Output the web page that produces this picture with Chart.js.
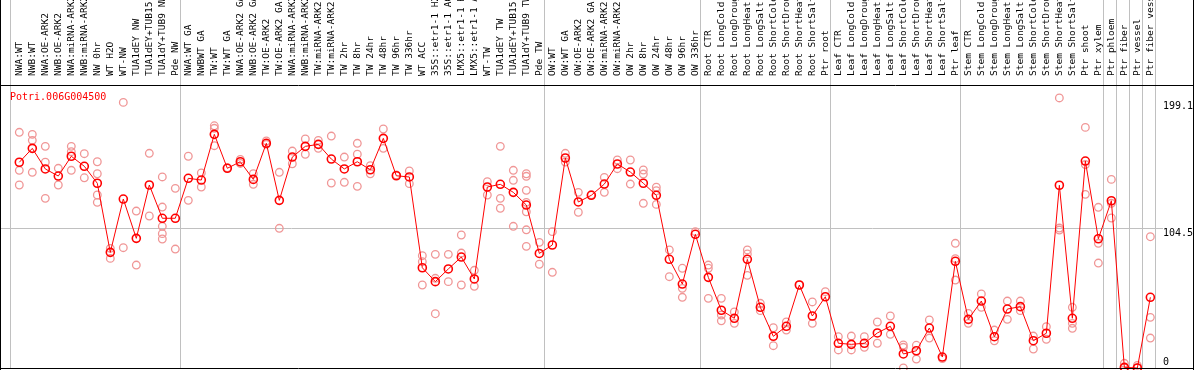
<!DOCTYPE html>
<html>
<head>
<meta charset="utf-8">
<script src="https://cdn.jsdelivr.net/npm/chart.js@4.4.0/dist/chart.umd.min.js"></script>
<style>
  html, body { margin: 0; padding: 0; background: #fff; }
  canvas { display: block; }
</style>
</head>
<body>
<canvas id="chart" width="1194" height="370"></canvas>
<script>
const geneName = 'Potri.006G004500';

const sampleLabels = [
  'NWA:WT', 'NWB:WT', 'NWA:OE-ARK2', 'NWB:OE-ARK2', 'NWA:miRNA-ARK2', 'NWB:miRNA-ARK2',
  'NW 0hr', 'WT H2O', 'WT-NW', 'TUA1dEY NW', 'TUA1dEY+TUB15', 'TUA1dY+TUB9 NW', 'Pde NW',
  'NWA:WT GA', 'NWBWT GA', 'TW:WT', 'TW:WT GA', 'NWA:OE-ARK2 GA', 'NWB:OE-ARK2 GA',
  'TW:OE-ARK2', 'TW:OE-ARK2 GA', 'NWA:miRNA-ARK2', 'NWB:miRNA-ARK2', 'TW:miRNA-ARK2',
  'TW:miRNA-ARK2', 'TW 2hr', 'TW 8hr', 'TW 24hr', 'TW 48hr', 'TW 96hr', 'TW 336hr', 'WT ACC',
  '35S::etr1-1 H2', '35S::etr1-1 AC', 'LMX5::etr1-1 H', 'LMX5::etr1-1 A', 'WT-TW',
  'TUA1dEY TW', 'TUA1dEY+TUB15', 'TUA1dY+TUB9 TW', 'Pde TW',
  'OW:WT', 'OW:WT GA', 'OW:OE-ARK2', 'OW:OE-ARK2 GA', 'OW:miRNA-ARK2', 'OW:miRNA-ARK2',
  'OW 2hr', 'OW 8hr', 'OW 24hr', 'OW 48hr', 'OW 96hr', 'OW 336hr',
  'Root CTR', 'Root LongCold', 'Root LongDroug', 'Root LongHeat', 'Root LongSalt',
  'Root ShortCold', 'Root ShortDrou', 'Root ShortHeat', 'Root ShortSalt', 'Ptr root',
  'Leaf CTR', 'Leaf LongCold', 'Leaf LongDroug', 'Leaf LongHeat', 'Leaf LongSalt',
  'Leaf ShortCold', 'Leaf ShortDrou', 'Leaf ShortHeat', 'Leaf ShortSalt', 'Ptr leaf',
  'Stem CTR', 'Stem LongCold', 'Stem LongDroug', 'Stem LongHeat', 'Stem LongSalt',
  'Stem ShortCold', 'Stem ShortDrou', 'Stem ShortHeat', 'Stem ShortSalt', 'Ptr shoot',
  'Ptr xylem', 'Ptr phloem', 'Ptr fiber', 'Ptr vessel', 'Ptr fiber vess'
];

// number of samples in each block between the grey separators
const groupSizes = [13, 28, 12, 10, 10, 11, 1, 1, 1, 1];

const meanValues = [
  153.9, 164.3, 148.9, 143.6, 158.4, 150.9, 138.2, 86.5, 126.4, 97.0, 136.9, 112.0, 112.0,
  141.9, 140.6, 174.8, 149.4, 154.3, 141.1, 168.1, 125.4, 157.8, 165.8, 167.3, 156.3, 148.9,
  154.3, 148.3, 171.8, 143.8, 142.9, 75.0, 64.6, 74.1, 83.0, 66.6, 135.4, 137.4, 131.4, 121.9, 85.7,
  92.0, 157.1, 124.2, 129.2, 137.6, 152.6, 146.6, 138.2, 129.2, 81.3, 62.8, 100.0,
  67.8, 43.2, 37.2, 81.3, 45.4, 23.7, 31.2, 62.1, 38.9, 53.3,
  18.5, 17.7, 18.5, 26.2, 31.2, 10.5, 12.9, 29.9, 8.2, 79.8,
  36.4, 50.1, 23.4, 44.1, 45.9, 20.4, 26.0, 136.7, 37.2, 154.8, 96.7,
  125.1, 0.5, 0, 52.9
];

const replicateValues = [
  [176.3, 147.9, 136.9], [174.8, 170.3, 146.4], [165.8, 153.9, 126.9], [149.4, 136.9],
  [165.8, 161.8, 147.9], [160.3, 142.3], [154.3, 145.3, 129.4, 123.9], [89.5, 82.0],
  [198.7, 90.0], [117.4, 77.0], [160.6, 113.7], [142.9, 120.4, 106.0, 100.5, 96.5], [134.4, 89.0],
  [158.4, 125.4], [145.9, 135.4], [181.2, 179.3, 166.3], [149.8], [156.0, 153.0],
  [145.3, 137.4], [169.8, 167.3], [146.4, 104.5], [162.3, 152.8], [171.3, 159.9],
  [170.3, 164.3], [173.5, 138.4], [157.8, 138.9], [168.1, 159.9, 135.9], [151.3, 145.3],
  [178.8, 164.3], [144.4], [147.4, 137.9], [84.0, 79.5, 62.1], [85.0, 67.1, 40.6],
  [85.0, 64.6], [99.5, 86.0, 62.1], [73.1, 61.1], [139.4, 129.4], [165.8, 126.9, 119.5],
  [147.9, 140.4, 106.0], [145.3, 143.4, 132.9, 123.9, 116.9, 103.4, 91.0], [94.0, 77.6],
  [102.0, 71.6], [160.6, 154.1], [131.4, 116.5], [129.6], [142.6, 131.4], [155.6, 149.1],
  [155.6, 137.6], [148.1, 145.1, 123.2], [135.2, 132.6, 122.4], [88.3, 68.3],
  [74.6, 59.6, 52.9], [102.0],
  [77.0, 74.6, 52.1], [52.1, 39.6, 35.3], [41.9, 33.4], [88.3, 85.3, 69.3], [48.4, 42.9],
  [30.1, 16.7], [34.4, 28.4], [62.1], [49.4, 33.4], [57.1],
  [23.4, 13.5], [23.9, 13.5], [23.4, 15.5], [34.4, 18.5], [38.9, 25.2], [17.2, 15.5, 0],
  [17.0, 6.7], [35.9, 22.4], [7.0], [93.3, 81.8, 65.8],
  [40.9, 33.4], [55.4, 45.4], [28.4, 20.4], [50.1, 36.4], [50.1, 42.9], [23.9, 14.2],
  [30.9, 21.5], [202.0, 104.7, 103.2], [45.4, 33.4, 29.7], [180.0, 152.2, 129.9],
  [120.2, 93.3, 78.5], [141.1, 123.2, 112.2], [3.5, 0], [2.0, 0], [98.2, 37.9, 22.4]
];

const yTickValues = [0, 104.5, 199.1];

// separator positions in sample units
const separators = [-0.7];
let count = 0;
groupSizes.forEach(n => { count += n; separators.push(count - 1 + 0.38); });

const meanPoints = meanValues.map((v, i) => ({ x: i, y: v }));
const replicatePoints = [];
replicateValues.forEach((vals, i) => vals.forEach(v => replicatePoints.push({ x: i, y: v })));

const monoFont = 'DejaVu Sans Mono';

const decorations = {
  id: 'decorations',
  beforeDatasetsDraw(chart) {
    const { ctx, chartArea, scales } = chart;
    const x = scales.x, y = scales.y;
    ctx.save();
    ctx.strokeStyle = '#c0c0c0';
    ctx.lineWidth = 1;
    ctx.beginPath();
    const gy = Math.round(y.getPixelForValue(yTickValues[1])) + 0.5;
    ctx.moveTo(chartArea.left, gy);
    ctx.lineTo(chartArea.right - 30, gy);
    separators.forEach(s => {
      const px = Math.round(x.getPixelForValue(s)) + 0.5;
      ctx.moveTo(px, 0);
      ctx.lineTo(px, chartArea.bottom);
    });
    ctx.stroke();

    // y tick labels drawn inside the frame on the right
    ctx.fillStyle = '#000';
    ctx.font = '10px ' + monoFont;
    ctx.textAlign = 'left';
    ctx.textBaseline = 'middle';
    yTickValues.forEach(v => {
      let py = y.getPixelForValue(v) + 5;
      if (py > chartArea.bottom - 6) py = chartArea.bottom - 6;
      ctx.fillText(String(v), chartArea.right - 30, py);
    });

    ctx.fillStyle = '#ff0000';
    ctx.fillText(geneName, 10, chartArea.top + 12);
    ctx.restore();
  },
  afterDraw(chart) {
    const { ctx, chartArea } = chart;
    ctx.save();
    ctx.strokeStyle = '#000';
    ctx.lineWidth = 1;
    ctx.beginPath();
    ctx.moveTo(0.5, 0);
    ctx.lineTo(0.5, chart.height);
    ctx.moveTo(chart.width - 0.5, 0);
    ctx.lineTo(chart.width - 0.5, chart.height);
    ctx.moveTo(0, chartArea.top + 0.5);
    ctx.lineTo(chart.width, chartArea.top + 0.5);
    ctx.moveTo(0, chartArea.bottom + 0.5);
    ctx.lineTo(chart.width, chartArea.bottom + 0.5);
    ctx.stroke();
    ctx.restore();
  }
};

Chart.defaults.font.family = monoFont;
Chart.defaults.font.size = 10;
Chart.defaults.color = '#000';

new Chart(document.getElementById('chart').getContext('2d'), {
  type: 'line',
  data: {
    datasets: [
      {
        label: 'mean',
        data: meanPoints,
        borderColor: '#ff0000',
        borderWidth: 1,
        pointRadius: 4,
        pointBorderWidth: 1.6,
        pointBorderColor: '#ff0000',
        pointBackgroundColor: 'rgba(255,255,255,0)',
        tension: 0,
        clip: false,
        order: 1
      },
      {
        type: 'scatter',
        label: 'replicates',
        data: replicatePoints,
        showLine: false,
        pointRadius: 3.8,
        pointBorderWidth: 1.3,
        pointBorderColor: 'rgb(240,150,150)',
        pointBackgroundColor: 'rgba(255,255,255,0)',
        clip: false,
        order: 2
      }
    ]
  },
  options: {
    responsive: false,
    animation: false,
    events: [],
    layout: { autoPadding: false, padding: { left: 1, right: 1, top: 0, bottom: 2 } },
    scales: {
      x: {
        type: 'linear',
        position: 'top',
        min: -1.408,
        max: 90.28,
        offset: false,
        grid: { display: false },
        border: { display: false },
        afterBuildTicks: scale => { scale.ticks = sampleLabels.map((_, i) => ({ value: i })); },
        afterFit: scale => { scale.height = 85; },
        ticks: {
          autoSkip: false,
          minRotation: 90,
          maxRotation: 90,
          padding: 1,
          labelOffset: 12,
          font: { size: 9.5, family: monoFont },
          callback: value => sampleLabels[value] || ''
        }
      },
      y: {
        display: false,
        min: 0,
        max: 211.7
      }
    },
    plugins: {
      legend: { display: false },
      tooltip: { enabled: false },
      title: { display: false }
    }
  },
  plugins: [decorations]
});
</script>
</body>
</html>
